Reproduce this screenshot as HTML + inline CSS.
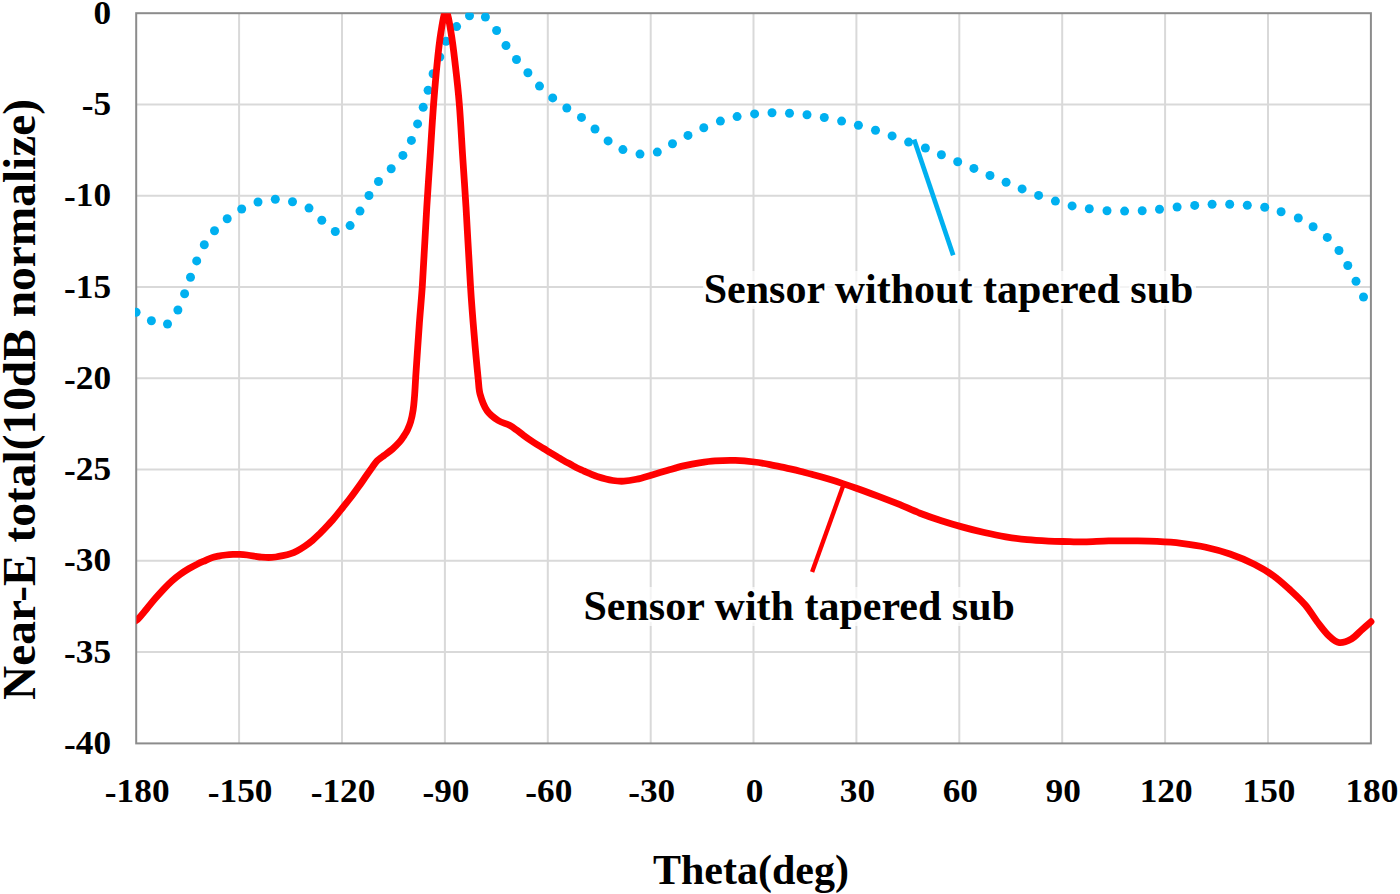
<!DOCTYPE html>
<html><head><meta charset="utf-8"><title>Near-E total chart</title>
<style>html,body{margin:0;padding:0;background:#fff;}body{width:1400px;height:894px;overflow:hidden;}svg{display:block;}text{font-family:"Liberation Serif",serif;}</style>
</head><body>
<svg width="1400" height="894" viewBox="0 0 1400 894">
<defs><clipPath id="pc"><rect x="135" y="12.8" width="1238" height="732"/></clipPath><clipPath id="pr"><rect x="136.4" y="13.3" width="1260" height="740"/></clipPath></defs>
<path d="M239.1,13.2V743.4M342.0,13.2V743.4M444.9,13.2V743.4M547.8,13.2V743.4M650.7,13.2V743.4M753.5,13.2V743.4M856.4,13.2V743.4M959.3,13.2V743.4M1062.2,13.2V743.4M1165.1,13.2V743.4M1268.0,13.2V743.4M136.2,104.5H1370.9M136.2,195.7H1370.9M136.2,287.0H1370.9M136.2,378.3H1370.9M136.2,469.6H1370.9M136.2,560.8H1370.9M136.2,652.1H1370.9" stroke="#D9D9D9" stroke-width="2" fill="none"/>
<rect x="136.2" y="13.2" width="1234.7" height="730.2" fill="none" stroke="#8C8C8C" stroke-width="2"/>
<g clip-path="url(#pc)" fill="#00B0F0"><circle cx="136.1" cy="312.2" r="4.5"/><circle cx="151.4" cy="320.7" r="4.5"/><circle cx="167.5" cy="324.0" r="4.5"/><circle cx="177.9" cy="310.0" r="4.5"/><circle cx="184.6" cy="293.7" r="4.5"/><circle cx="190.5" cy="277.2" r="4.5"/><circle cx="196.7" cy="260.9" r="4.5"/><circle cx="204.3" cy="244.8" r="4.5"/><circle cx="214.5" cy="230.8" r="4.5"/><circle cx="227.2" cy="218.8" r="4.5"/><circle cx="241.7" cy="209.0" r="4.5"/><circle cx="258.0" cy="202.0" r="4.5"/><circle cx="275.3" cy="199.3" r="4.5"/><circle cx="292.5" cy="201.8" r="4.5"/><circle cx="309.0" cy="208.1" r="4.5"/><circle cx="321.8" cy="220.3" r="4.5"/><circle cx="335.3" cy="231.5" r="4.5"/><circle cx="350.1" cy="225.6" r="4.5"/><circle cx="360.0" cy="211.1" r="4.5"/><circle cx="369.0" cy="195.5" r="4.5"/><circle cx="378.5" cy="181.5" r="4.5"/><circle cx="391.2" cy="168.8" r="4.5"/><circle cx="402.9" cy="155.4" r="4.5"/><circle cx="411.4" cy="140.4" r="4.5"/><circle cx="417.6" cy="123.9" r="4.5"/><circle cx="423.2" cy="107.3" r="4.5"/><circle cx="428.1" cy="90.3" r="4.5"/><circle cx="433.1" cy="73.8" r="4.5"/><circle cx="439.8" cy="57.0" r="4.5"/><circle cx="446.1" cy="41.2" r="4.5"/><circle cx="456.6" cy="26.6" r="4.5"/><circle cx="469.5" cy="15.8" r="4.5"/><circle cx="485.4" cy="17.0" r="4.5"/><circle cx="496.6" cy="30.5" r="4.5"/><circle cx="506.0" cy="45.5" r="4.5"/><circle cx="516.5" cy="59.5" r="4.5"/><circle cx="527.9" cy="72.7" r="4.5"/><circle cx="539.5" cy="86.1" r="4.5"/><circle cx="552.7" cy="97.9" r="4.5"/><circle cx="566.8" cy="108.0" r="4.5"/><circle cx="581.5" cy="117.4" r="4.5"/><circle cx="595.0" cy="129.0" r="4.5"/><circle cx="608.1" cy="140.9" r="4.5"/><circle cx="622.9" cy="149.6" r="4.5"/><circle cx="640.0" cy="154.1" r="4.5"/><circle cx="657.3" cy="152.1" r="4.5"/><circle cx="672.5" cy="143.8" r="4.5"/><circle cx="688.0" cy="135.4" r="4.5"/><circle cx="703.8" cy="127.7" r="4.5"/><circle cx="720.4" cy="121.1" r="4.5"/><circle cx="737.1" cy="116.6" r="4.5"/><circle cx="754.6" cy="113.9" r="4.5"/><circle cx="772.0" cy="112.7" r="4.5"/><circle cx="789.5" cy="113.2" r="4.5"/><circle cx="807.0" cy="114.8" r="4.5"/><circle cx="824.3" cy="117.5" r="4.5"/><circle cx="841.6" cy="121.1" r="4.5"/><circle cx="858.4" cy="125.3" r="4.5"/><circle cx="875.5" cy="130.2" r="4.5"/><circle cx="892.1" cy="135.9" r="4.5"/><circle cx="908.6" cy="142.1" r="4.5"/><circle cx="925.4" cy="148.0" r="4.5"/><circle cx="941.4" cy="154.8" r="4.5"/><circle cx="957.7" cy="161.8" r="4.5"/><circle cx="973.9" cy="168.4" r="4.5"/><circle cx="990.0" cy="175.5" r="4.5"/><circle cx="1006.1" cy="182.3" r="4.5"/><circle cx="1022.1" cy="188.9" r="4.5"/><circle cx="1038.6" cy="195.4" r="4.5"/><circle cx="1055.4" cy="201.1" r="4.5"/><circle cx="1072.1" cy="205.9" r="4.5"/><circle cx="1089.3" cy="208.8" r="4.5"/><circle cx="1107.0" cy="210.7" r="4.5"/><circle cx="1124.6" cy="211.1" r="4.5"/><circle cx="1142.2" cy="210.7" r="4.5"/><circle cx="1159.5" cy="209.3" r="4.5"/><circle cx="1177.1" cy="207.0" r="4.5"/><circle cx="1194.7" cy="205.4" r="4.5"/><circle cx="1212.1" cy="204.3" r="4.5"/><circle cx="1229.7" cy="204.3" r="4.5"/><circle cx="1247.3" cy="205.2" r="4.5"/><circle cx="1264.7" cy="207.3" r="4.5"/><circle cx="1281.1" cy="211.8" r="4.5"/><circle cx="1298.3" cy="218.0" r="4.5"/><circle cx="1313.1" cy="226.7" r="4.5"/><circle cx="1327.3" cy="237.4" r="4.5"/><circle cx="1339.0" cy="250.5" r="4.5"/><circle cx="1347.8" cy="265.5" r="4.5"/><circle cx="1356.0" cy="281.3" r="4.5"/><circle cx="1363.5" cy="297.0" r="4.5"/></g>
<path clip-path="url(#pr)" d="M135.0,621.0 C135.8,620.5 136.8,620.3 137.5,619.6 C140.8,616.2 143.7,612.4 146.8,608.7 C149.6,605.4 152.3,601.9 155.2,598.6 C157.9,595.5 160.7,592.4 163.5,589.4 C166.2,586.5 169.0,583.6 171.9,581.0 C174.6,578.6 177.4,576.4 180.3,574.3 C183.0,572.3 185.8,570.5 188.7,568.8 C191.4,567.2 194.2,565.6 197.1,564.2 C199.8,562.8 202.7,561.7 205.5,560.5 C207.5,559.6 209.4,558.6 211.4,557.9 C213.7,557.1 216.2,556.6 218.6,556.1 C220.9,555.6 223.3,555.3 225.7,555.0 C228.1,554.7 230.5,554.5 232.9,554.4 C235.3,554.3 237.6,554.3 240.0,554.4 C242.4,554.5 244.7,554.7 247.1,555.0 C249.5,555.3 251.9,555.7 254.3,556.1 C256.7,556.4 259.0,556.9 261.4,557.1 C263.8,557.3 266.2,557.5 268.6,557.5 C271.0,557.5 273.3,557.3 275.7,557.0 C278.1,556.7 280.5,556.2 282.9,555.7 C285.3,555.2 287.7,554.7 290.0,553.9 C292.4,553.1 294.8,552.1 297.0,550.9 C299.7,549.5 302.3,547.9 304.8,546.2 C307.5,544.4 310.1,542.4 312.6,540.3 C315.3,538.0 317.9,535.4 320.5,532.9 C323.2,530.2 325.7,527.5 328.3,524.7 C330.2,522.6 332.2,520.6 334.0,518.4 C336.8,515.1 339.4,511.7 342.1,508.3 C344.8,505.0 347.5,501.7 350.1,498.3 C352.9,494.7 355.5,491.0 358.2,487.3 C360.6,484.0 362.9,480.6 365.2,477.3 C367.6,473.9 369.9,470.5 372.3,467.2 C373.9,465.0 375.4,462.6 377.3,460.7 C379.4,458.6 382.0,457.0 384.4,455.2 C387.1,453.2 389.9,451.3 392.4,449.1 C394.9,446.9 397.3,444.6 399.5,442.1 C401.4,439.9 402.9,437.4 404.5,435.0 C405.6,433.3 406.7,431.6 407.5,429.8 C408.7,427.2 409.8,424.6 410.6,421.9 C411.7,418.1 412.5,414.1 413.1,410.2 C413.8,405.8 414.1,401.3 414.5,396.8 C415.0,390.3 415.3,383.7 415.7,377.2 C416.9,359.1 418.1,341.1 419.4,323.0 C420.3,310.7 421.5,298.4 422.3,286.1 C424.0,259.7 425.2,233.3 426.8,206.9 C427.8,189.7 429.1,172.6 430.2,155.4 C431.3,138.3 432.3,121.1 433.6,104.0 C434.6,91.3 435.6,78.6 436.9,65.9 C438.0,54.7 439.1,43.5 440.9,32.4 C442.1,25.2 444.2,11.0 445.9,11.0 C447.6,11.0 449.8,25.2 451.0,32.4 C452.9,43.5 454.1,54.7 455.4,65.9 C456.9,78.6 458.3,91.3 459.3,104.0 C460.7,121.1 461.5,138.3 462.6,155.4 C463.7,172.6 465.0,189.7 466.0,206.9 C467.6,233.3 468.8,259.7 470.5,286.1 C471.5,302.5 472.8,318.9 474.2,335.3 C475.4,350.2 476.8,365.1 478.3,380.0 C478.8,384.7 478.8,389.7 480.1,394.2 C481.7,399.9 483.8,406.0 487.1,410.8 C489.8,414.7 494.1,417.9 498.2,420.5 C501.8,422.8 506.2,423.6 510.0,425.6 C512.4,426.8 514.5,428.5 516.7,430.1 C519.0,431.7 521.1,433.5 523.4,435.2 C525.6,436.8 527.8,438.4 530.1,440.0 C532.3,441.5 534.5,443.0 536.8,444.4 C539.0,445.8 541.3,447.1 543.6,448.5 C545.8,449.9 548.1,451.2 550.3,452.6 C552.5,453.9 554.8,455.3 557.0,456.6 C559.2,457.9 561.4,459.3 563.7,460.6 C565.9,461.9 568.2,463.1 570.4,464.3 C572.6,465.5 574.8,466.9 577.1,468.0 C579.3,469.1 581.6,470.0 583.8,471.0 C585.9,471.9 587.9,472.7 590.0,473.6 C592.4,474.6 594.7,475.8 597.1,476.5 C602.3,478.1 607.6,479.6 612.9,480.5 C616.5,481.1 620.3,481.4 623.9,481.2 C628.1,481.0 632.3,480.2 636.4,479.3 C641.7,478.1 646.9,476.4 652.1,474.9 C657.4,473.4 662.6,471.8 667.9,470.3 C673.1,468.8 678.3,467.2 683.6,465.9 C688.8,464.7 694.0,463.6 699.3,462.8 C704.5,462.0 709.7,461.2 715.0,460.9 C721.8,460.4 728.6,460.2 735.4,460.4 C741.7,460.6 748.0,461.2 754.3,462.0 C759.6,462.6 764.8,463.6 770.0,464.6 C775.3,465.6 780.5,466.8 785.7,467.9 C790.5,469.0 795.3,470.0 800.0,471.2 C804.8,472.4 809.5,473.7 814.3,475.0 C819.1,476.3 823.9,477.7 828.6,479.1 C833.4,480.5 838.2,482.0 842.9,483.6 C847.7,485.2 852.4,486.8 857.1,488.5 C861.9,490.2 866.6,491.9 871.4,493.7 C876.2,495.5 880.9,497.3 885.7,499.1 C890.5,500.9 895.3,502.8 900.0,504.7 C906.7,507.5 913.2,510.6 920.0,513.2 C927.0,515.9 934.2,518.4 941.4,520.7 C948.5,523.0 955.7,525.1 962.9,527.1 C970.0,529.1 977.1,530.9 984.3,532.5 C991.4,534.1 998.5,535.6 1005.7,536.8 C1012.8,538.0 1019.9,538.9 1027.1,539.6 C1034.2,540.3 1041.4,540.7 1048.6,541.1 C1055.7,541.4 1062.9,541.5 1070.0,541.7 C1074.8,541.8 1079.5,542.0 1084.3,541.9 C1092.4,541.7 1100.5,541.1 1108.6,540.9 C1116.7,540.7 1124.8,540.8 1132.9,540.9 C1141.0,541.0 1149.0,541.0 1157.1,541.4 C1165.2,541.8 1173.3,542.3 1181.4,543.3 C1189.5,544.3 1197.7,545.4 1205.7,547.2 C1213.9,549.0 1222.1,551.2 1230.0,554.0 C1238.3,556.9 1246.5,560.3 1254.3,564.2 C1261.0,567.6 1267.6,571.5 1273.7,575.9 C1279.7,580.2 1285.2,585.4 1290.7,590.4 C1295.8,595.1 1300.9,599.8 1305.3,605.0 C1309.8,610.3 1313.2,616.5 1317.4,622.0 C1321.3,627.0 1325.0,632.3 1329.6,636.6 C1332.3,639.2 1335.9,642.2 1339.3,642.6 C1343.1,643.0 1347.8,641.0 1351.4,639.0 C1355.1,637.0 1357.9,633.3 1361.1,630.5 C1364.4,627.6 1367.7,624.6 1371.0,621.7" fill="none" stroke="#FF0000" stroke-width="6.8" stroke-linejoin="round" stroke-linecap="round"/>
<line x1="914.1" y1="139.4" x2="953.2" y2="255.3" stroke="#00B0F0" stroke-width="4.7"/>
<line x1="843.7" y1="484.2" x2="812.1" y2="572" stroke="#FF0000" stroke-width="4.4"/>
<text transform="translate(137.2,801.7) scale(1.07,1)" font-family="Liberation Serif" font-weight="bold" font-size="33" text-anchor="middle"><tspan dy="2">-</tspan><tspan dy="-2">180</tspan></text>
<text transform="translate(240.1,801.7) scale(1.07,1)" font-family="Liberation Serif" font-weight="bold" font-size="33" text-anchor="middle"><tspan dy="2">-</tspan><tspan dy="-2">150</tspan></text>
<text transform="translate(343.0,801.7) scale(1.07,1)" font-family="Liberation Serif" font-weight="bold" font-size="33" text-anchor="middle"><tspan dy="2">-</tspan><tspan dy="-2">120</tspan></text>
<text transform="translate(445.9,801.7) scale(1.07,1)" font-family="Liberation Serif" font-weight="bold" font-size="33" text-anchor="middle"><tspan dy="2">-</tspan><tspan dy="-2">90</tspan></text>
<text transform="translate(548.8,801.7) scale(1.07,1)" font-family="Liberation Serif" font-weight="bold" font-size="33" text-anchor="middle"><tspan dy="2">-</tspan><tspan dy="-2">60</tspan></text>
<text transform="translate(651.7,801.7) scale(1.07,1)" font-family="Liberation Serif" font-weight="bold" font-size="33" text-anchor="middle"><tspan dy="2">-</tspan><tspan dy="-2">30</tspan></text>
<text transform="translate(754.5,801.7) scale(1.07,1)" font-family="Liberation Serif" font-weight="bold" font-size="33" text-anchor="middle">0</text>
<text transform="translate(857.4,801.7) scale(1.07,1)" font-family="Liberation Serif" font-weight="bold" font-size="33" text-anchor="middle">30</text>
<text transform="translate(960.3,801.7) scale(1.07,1)" font-family="Liberation Serif" font-weight="bold" font-size="33" text-anchor="middle">60</text>
<text transform="translate(1063.2,801.7) scale(1.07,1)" font-family="Liberation Serif" font-weight="bold" font-size="33" text-anchor="middle">90</text>
<text transform="translate(1166.1,801.7) scale(1.07,1)" font-family="Liberation Serif" font-weight="bold" font-size="33" text-anchor="middle">120</text>
<text transform="translate(1269.0,801.7) scale(1.07,1)" font-family="Liberation Serif" font-weight="bold" font-size="33" text-anchor="middle">150</text>
<text transform="translate(1371.9,801.7) scale(1.07,1)" font-family="Liberation Serif" font-weight="bold" font-size="33" text-anchor="middle">180</text>
<text transform="translate(111.1,23.7) scale(1.07,1)" font-family="Liberation Serif" font-weight="bold" font-size="33" text-anchor="end">0</text>
<text transform="translate(111.1,115.0) scale(1.07,1)" font-family="Liberation Serif" font-weight="bold" font-size="33" text-anchor="end"><tspan dy="2">-</tspan><tspan dy="-2">5</tspan></text>
<text transform="translate(111.1,206.2) scale(1.07,1)" font-family="Liberation Serif" font-weight="bold" font-size="33" text-anchor="end"><tspan dy="2">-</tspan><tspan dy="-2">10</tspan></text>
<text transform="translate(111.1,297.5) scale(1.07,1)" font-family="Liberation Serif" font-weight="bold" font-size="33" text-anchor="end"><tspan dy="2">-</tspan><tspan dy="-2">15</tspan></text>
<text transform="translate(111.1,388.8) scale(1.07,1)" font-family="Liberation Serif" font-weight="bold" font-size="33" text-anchor="end"><tspan dy="2">-</tspan><tspan dy="-2">20</tspan></text>
<text transform="translate(111.1,480.1) scale(1.07,1)" font-family="Liberation Serif" font-weight="bold" font-size="33" text-anchor="end"><tspan dy="2">-</tspan><tspan dy="-2">25</tspan></text>
<text transform="translate(111.1,571.3) scale(1.07,1)" font-family="Liberation Serif" font-weight="bold" font-size="33" text-anchor="end"><tspan dy="2">-</tspan><tspan dy="-2">30</tspan></text>
<text transform="translate(111.1,662.6) scale(1.07,1)" font-family="Liberation Serif" font-weight="bold" font-size="33" text-anchor="end"><tspan dy="2">-</tspan><tspan dy="-2">35</tspan></text>
<text transform="translate(111.1,753.9) scale(1.07,1)" font-family="Liberation Serif" font-weight="bold" font-size="33" text-anchor="end"><tspan dy="2">-</tspan><tspan dy="-2">40</tspan></text>
<text x="751" y="884" font-family="Liberation Serif" font-weight="bold" font-size="42" text-anchor="middle">Theta(deg)</text>
<text transform="translate(35.1,399.4) rotate(-90)" x="0" y="0" font-family="Liberation Serif" font-weight="bold" font-size="47.4" text-anchor="middle">Near-E total(10dB normalize)</text>
<rect x="703" y="271" width="493" height="38" fill="#fff" fill-opacity="0.7"/>
<rect x="583" y="587" width="433" height="39" fill="#fff" fill-opacity="0.7"/>
<text x="703.7" y="303.3" font-family="Liberation Serif" font-weight="bold" stroke="#fff" stroke-width="5" paint-order="stroke" stroke-linejoin="round" font-size="42">Sensor without tapered sub</text>
<text x="583.5" y="619.8" font-family="Liberation Serif" font-weight="bold" stroke="#fff" stroke-width="5" paint-order="stroke" stroke-linejoin="round" font-size="42">Sensor with tapered sub</text>
</svg>
</body></html>
